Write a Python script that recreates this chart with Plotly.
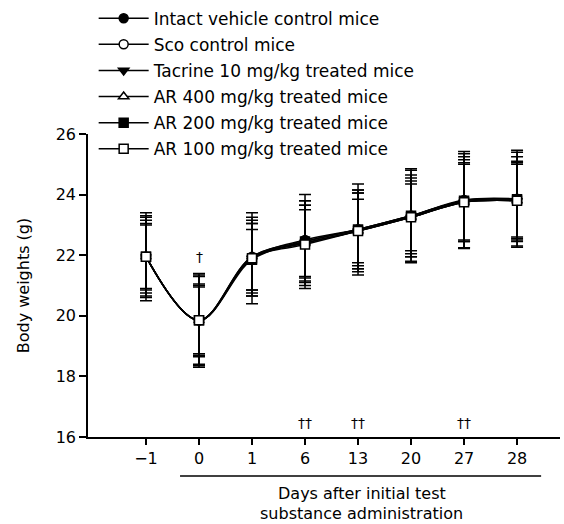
import plotly.graph_objects as go

days = ["\u22121", "0", "1", "6", "13", "20", "27", "28"]

series_names = [
    "Intact vehicle control mice",
    "Sco control mice",
    "Tacrine 10 mg/kg treated mice",
    "AR 400 mg/kg treated mice",
    "AR 200 mg/kg treated mice",
    "AR 100 mg/kg treated mice",
]

intact = [21.95, 19.85, 21.90, 22.50, 22.85, 23.30, 23.82, 23.86]
sco = [21.95, 19.85, 21.95, 22.45, 22.85, 23.30, 23.80, 23.85]
tacrine = [21.95, 19.85, 21.90, 22.40, 22.80, 23.25, 23.75, 23.80]
ar400 = [21.95, 19.85, 21.95, 22.40, 22.80, 23.25, 23.75, 23.80]
ar200 = [21.95, 19.85, 21.85, 22.45, 22.85, 23.30, 23.80, 23.85]
ar100 = [21.95, 19.85, 21.90, 22.35, 22.80, 23.25, 23.75, 23.80]

intact_sd = [1.45, 1.55, 1.50, 1.50, 1.50, 1.55, 1.60, 1.60]
sco_sd = [1.35, 1.45, 1.30, 1.35, 1.30, 1.35, 1.35, 1.40]
tacrine_sd = [1.20, 1.15, 1.25, 1.25, 1.25, 1.20, 1.25, 1.25]
ar400_sd = [1.10, 1.10, 1.10, 1.10, 1.05, 1.10, 1.50, 1.30]
ar200_sd = [1.30, 1.50, 1.00, 1.20, 1.20, 1.50, 1.55, 1.55]
ar100_sd = [1.05, 1.20, 1.15, 1.45, 1.35, 1.30, 1.30, 1.20]

means = [intact, sco, tacrine, ar400, ar200, ar100]
sds = [intact_sd, sco_sd, tacrine_sd, ar400_sd, ar200_sd, ar100_sd]
symbols = ["circle", "circle", "triangle-down", "triangle-up", "square", "square"]
fills = ["black", "white", "black", "white", "black", "white"]

single_dagger_days = ["0"]
single_dagger_y = [21.95]
double_dagger_days = ["6", "13", "27"]
double_dagger_y = [16.45, 16.45, 16.45]

FONT = "DejaVu Sans"

fig = go.Figure()
for i, name in enumerate(series_names):
    fig.add_trace(go.Scatter(
        x=days, y=means[i], name=name, mode="lines+markers",
        line=dict(color="black", width=1.5, shape="spline", smoothing=1),
        marker=dict(symbol=symbols[i], size=9, color=fills[i],
                    line=dict(color="black", width=1.5)),
        error_y=dict(type="data", array=sds[i], visible=True,
                     color="black", thickness=1.5, width=6),
        legendgroup=f"g{i}",
    ))

for d, yv in zip(single_dagger_days, single_dagger_y):
    fig.add_annotation(x=days.index(d), y=yv, text="\u2020", showarrow=False,
                       font=dict(size=14, color="black", family=FONT))
for d, yv in zip(double_dagger_days, double_dagger_y):
    fig.add_annotation(x=days.index(d), y=yv, text="\u2020\u2020", showarrow=False,
                       font=dict(size=14, color="black", family=FONT))

fig.add_shape(type="line", xref="paper", yref="paper",
              x0=0.195, x1=0.96, y0=-0.129, y1=-0.129,
              line=dict(color="black", width=1.5))
fig.add_annotation(xref="paper", yref="paper", x=0.58, y=-0.185,
                   text="Days after initial test",
                   showarrow=False, yanchor="middle",
                   font=dict(size=16, color="black", family=FONT))
fig.add_annotation(xref="paper", yref="paper", x=0.58, y=-0.254,
                   text="substance administration",
                   showarrow=False, yanchor="middle",
                   font=dict(size=16, color="black", family=FONT))

fig.update_layout(
    width=564, height=524,
    margin=dict(l=88, r=4, t=134, b=87, autoexpand=False),
    paper_bgcolor="white", plot_bgcolor="white",
    font=dict(family=FONT, size=16, color="black"),
    showlegend=True,
    legend=dict(x=0.012, y=1.44, xanchor="left", yanchor="top",
                bgcolor="rgba(0,0,0,0)", font=dict(size=17, family=FONT),
                tracegroupgap=1, itemwidth=50),
    xaxis=dict(type="category", range=[-1.094, 7.81], showline=True,
               linecolor="black", linewidth=1.5, ticks="outside", ticklen=6,
               tickwidth=1.5, tickcolor="black", showgrid=False,
               zeroline=False, tickfont=dict(size=16), automargin=False),
    yaxis=dict(range=[16, 26], tickvals=[16, 18, 20, 22, 24, 26],
               showline=True, linecolor="black", linewidth=1.5,
               ticks="outside", ticklen=7, tickwidth=1.5, tickcolor="black",
               showgrid=False, zeroline=False, tickfont=dict(size=16),
               automargin=False,
               title=dict(text="Body weights (g)", font=dict(size=16),
                          standoff=22)),
)

fig.write_html("out.html")
